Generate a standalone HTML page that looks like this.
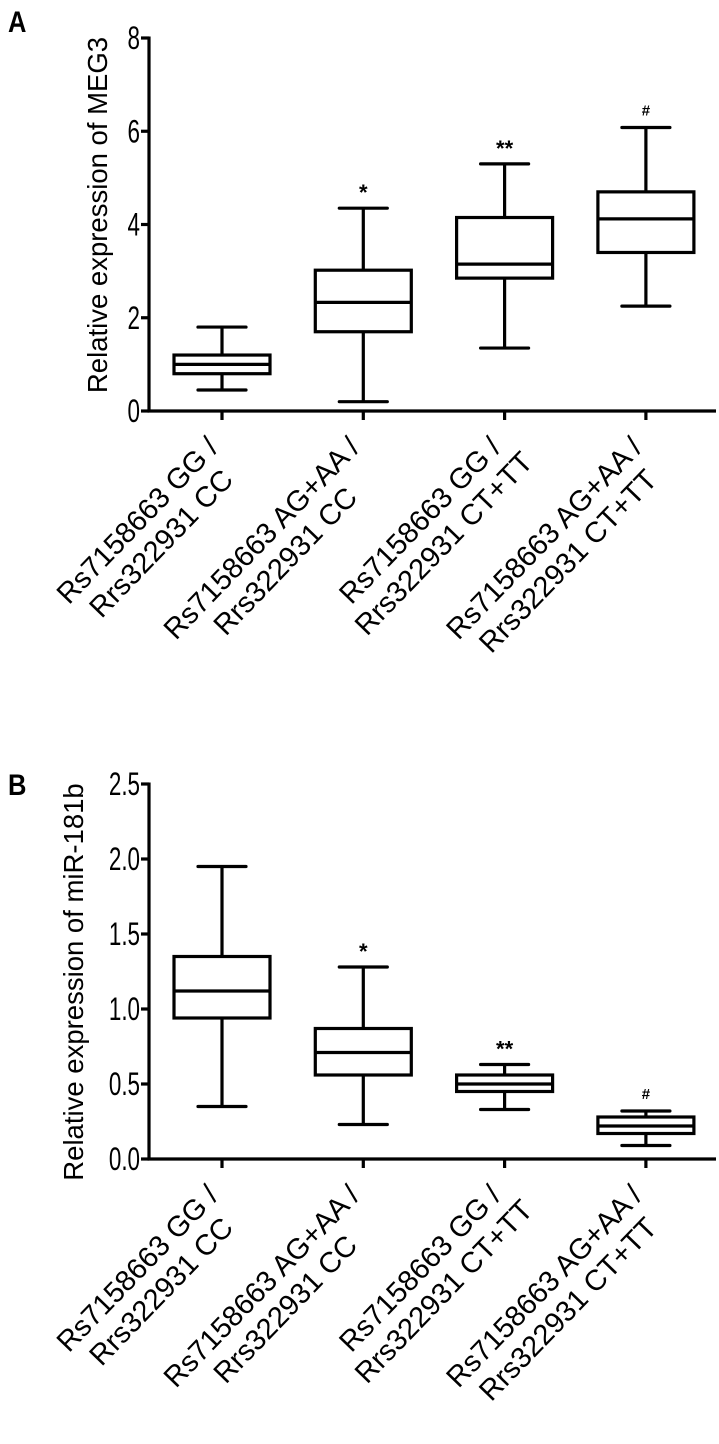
<!DOCTYPE html>
<html><head><meta charset="utf-8"><style>
html,body{margin:0;padding:0;background:#fff;}
svg{display:block;font-family:"Liberation Sans",Arial,sans-serif;}
</style></head><body>
<svg id="fig" width="719" height="1444" viewBox="0 0 719 1444"></svg>
<script>
const categories = [["Rs7158663 GG /","Rrs322931 CC"],["Rs7158663 AG+AA /","Rrs322931 CC"],["Rs7158663 GG /","Rrs322931 CT+TT"],["Rs7158663 AG+AA /","Rrs322931 CT+TT"]];
const aMin=[0.45,0.2,1.35,2.25], aQ1=[0.8,1.7,2.85,3.4], aMed=[1.0,2.33,3.15,4.12], aQ3=[1.2,3.02,4.15,4.7], aMax=[1.8,4.35,5.3,6.08];
const aTicks=["0","2","4","6","8"], aTickVals=[0,2,4,6,8];
const bMin=[0.35,0.23,0.33,0.09], bQ1=[0.94,0.56,0.45,0.17], bMed=[1.12,0.71,0.5,0.22], bQ3=[1.35,0.87,0.56,0.28], bMax=[1.95,1.28,0.63,0.32];
const bTicks=["0.0","0.5","1.0","1.5","2.0","2.5"], bTickVals=[0,0.5,1,1.5,2,2.5];
const marks=["","*","**","#"];
const NS="http://www.w3.org/2000/svg";
const svg=document.getElementById('fig');
function mk(tag,attrs,parent,txt){const e=document.createElementNS(NS,tag);for(const k in attrs)e.setAttribute(k,attrs[k]);if(txt!==undefined)e.textContent=txt;(parent||svg).appendChild(e);return e;}
function panel(p){
  const g=mk('g',{});
  
  
  const y=v=>p.y0-(v-p.vmin)/(p.vmax-p.vmin)*(p.y0-p.y1);
  const xs=i=>222+i*141.3;
  const lw=3.2;
  const L=mk('text',{x:0,y:0,'font-size':30,'font-weight':'bold',transform:`translate(8,${p.letterY}) scale(0.85,1)`},g,p.letter);
  
  
  const yax=mk('line',{x1:149,y1:y(p.vmax)-1.5,x2:149,y2:p.y0,stroke:'#000','stroke-width':lw},g);
  
  
  const xax=mk('line',{x1:147.5,y1:p.y0,x2:716,y2:p.y0,stroke:'#000','stroke-width':lw},g);
  
  
  p.tickVals.forEach((v,i)=>{
    mk('line',{x1:141,y1:y(v),x2:149,y2:y(v),stroke:'#000','stroke-width':lw},g);
    const t=mk('text',{x:0,y:0,'font-size':32,'text-anchor':'end',transform:`translate(140,${y(v)+11}) scale(0.7,1)`},g,p.ticks[i]);
    
    
  });
  const tt=mk('text',{x:0,y:0,'font-size':27.5,'text-anchor':'middle',transform:`translate(${p.titleX},${p.titleY}) rotate(-90)`},g,p.title);
  
  
  categories.forEach((c,i)=>{
    const x=xs(i), hw=48;
    mk('line',{x1:x,y1:p.y0,x2:x,y2:p.y0+9,stroke:'#000','stroke-width':lw},g);
    const bg=mk('g',{},g);
    
    
    mk('line',{x1:x,y1:y(p.max[i]),x2:x,y2:y(p.q3[i]),stroke:'#000','stroke-width':lw},bg);
    mk('line',{x1:x,y1:y(p.q1[i]),x2:x,y2:y(p.min[i]),stroke:'#000','stroke-width':lw},bg);
    mk('line',{x1:x-24,y1:y(p.max[i]),x2:x+24,y2:y(p.max[i]),stroke:'#000','stroke-width':lw,'stroke-linecap':'round'},bg);
    mk('line',{x1:x-24,y1:y(p.min[i]),x2:x+24,y2:y(p.min[i]),stroke:'#000','stroke-width':lw,'stroke-linecap':'round'},bg);
    mk('rect',{x:x-hw,y:y(p.q3[i]),width:2*hw,height:y(p.q1[i])-y(p.q3[i]),fill:'none',stroke:'#000','stroke-width':lw},bg);
    mk('line',{x1:x-hw,y1:y(p.med[i]),x2:x+hw,y2:y(p.med[i]),stroke:'#000','stroke-width':lw},bg);
    if(marks[i]){
      const m=mk('text',{x:x,y:y(p.max[i])-(marks[i]==='#'?12:8),'font-size':marks[i]==='#'?15:22,'font-weight':'bold','text-anchor':'middle'},g,marks[i]);
      
      
    }
    const lg=mk('g',{transform:`translate(${x-2},${p.y0+38}) rotate(-46)`},g);
    
    
    const t1=mk('text',{x:0,y:0,'font-size':29,'text-anchor':'end'},lg,c[0]);
    const w=t1.getComputedTextLength();
    mk('text',{x:-w/2,y:33,'font-size':29,'text-anchor':'middle'},lg,c[1]);
  });
}
panel({name:'panel-a',letter:'A',letterY:32,y0:411,y1:38,vmin:0,vmax:8,ticks:aTicks,tickVals:aTickVals,min:aMin,q1:aQ1,med:aMed,q3:aQ3,max:aMax,title:'Relative expression of MEG3',titleX:107,titleY:215});
panel({name:'panel-b',letter:'B',letterY:795,y0:1159,y1:784,vmin:0,vmax:2.5,ticks:bTicks,tickVals:bTickVals,min:bMin,q1:bQ1,med:bMed,q3:bQ3,max:bMax,title:'Relative expression of miR-181b',titleX:83,titleY:982});
</script>
</body></html>
